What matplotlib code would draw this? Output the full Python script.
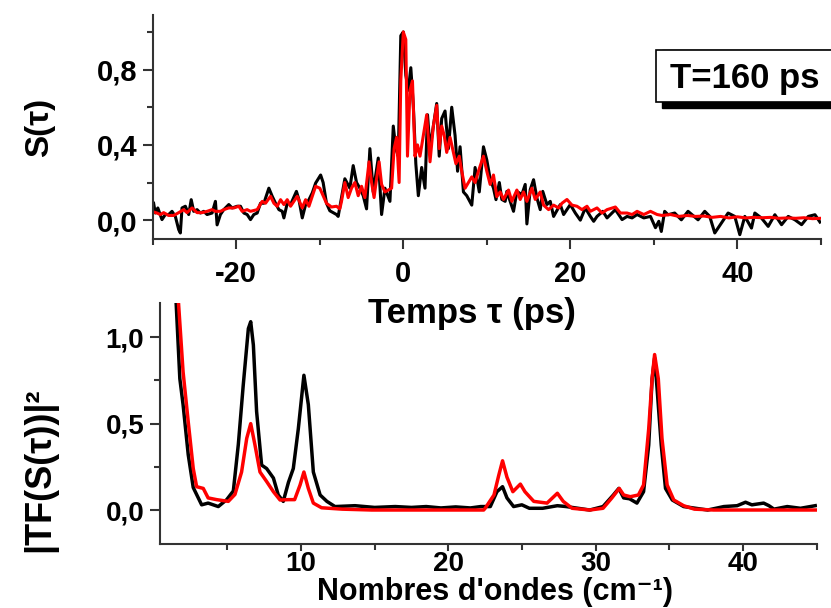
import numpy as np
import matplotlib
matplotlib.use("Agg")
import matplotlib.pyplot as plt
from matplotlib.patches import Rectangle
from matplotlib.ticker import MultipleLocator

plt.rcParams['font.family'] = ['Liberation Sans', 'DejaVu Sans']
plt.rcParams['font.weight'] = 'bold'

# ---- top panel : S(tau) ----
t_black = [-29.9, -29.7, -29.4, -28.9, -28.5, -28.1, -27.7, -27.3, -26.9, -26.7, -26.5, -26.1,
           -25.7, -25.4, -25.1, -24.7, -24.3, -23.9, -23.5, -22.9, -22.5, -22.3, -21.9, -21.5,
           -20.9, -20.5, -19.9, -19.5, -19.1, -18.7, -18.3, -17.9, -17.5, -17.1, -16.7, -16.1,
           -15.7, -15.3, -14.9, -14.5, -14.3, -13.9, -13.5, -12.8, -12.5, -12.1, -11.7, -11.3,
           -10.9, -10.5, -9.9, -9.6, -9.2, -8.8, -8.0, -7.8, -7.4, -7.0, -6.4, -6.0, -5.6, -5.2,
           -4.8, -4.4, -4.0, -3.6, -3.0, -2.6, -2.2, -1.6, -1.2, -0.9, -0.6, -0.3, 0.0, 0.3, 0.6,
           0.9, 1.2, 1.5, 1.8, 2.2, 2.6, 2.9, 3.2, 3.6, 4.0, 4.3, 4.6, 5.0, 5.4, 5.8, 6.2, 6.5,
           6.8, 7.2, 7.6, 8.2, 8.6, 9.1, 9.6, 10.0, 10.4, 10.8, 11.1, 11.5, 11.8, 12.2, 12.4,
           12.8, 13.2, 13.6, 14.2, 14.6, 14.8, 15.2, 15.6, 16.0, 16.4, 16.7, 17.2, 17.6, 18.0,
           18.8, 19.2, 20.0, 20.6, 21.2, 21.8, 22.4, 22.8, 23.2, 23.9, 24.4, 25.4, 26.2, 26.8,
           27.4, 28.0, 28.8, 29.6, 30.2, 30.6, 30.9, 31.3, 31.7, 32.5, 33.3, 34.1, 35.3, 36.1,
           36.7, 37.3, 38.1, 38.9, 39.7, 40.3, 40.9, 41.7, 42.1, 42.9, 43.7, 44.5, 45.3, 46.1,
           46.9, 47.7, 48.5, 49.3, 49.9]
s_black = [0.09, 0.038, 0.065, 0.003, 0.03, 0.03, 0.047, 0.02, -0.05, -0.068, 0.065, 0.074,
           0.03, 0.109, 0.047, 0.056, 0.038, 0.047, 0.03, 0.038, 0.10, -0.025, 0.03, 0.056,
           0.083, 0.065, 0.074, 0.074, 0.038, 0.03, 0.003, 0.03, 0.038, 0.09, 0.09, 0.17,
           0.127, 0.09, 0.056, 0.047, 0.012, 0.09, 0.083, 0.153, 0.109, 0.012, 0.083, 0.109,
           0.145, 0.197, 0.24, 0.20, 0.09, 0.05, 0.03, 0.02, 0.12, 0.22, 0.17, 0.29, 0.20, 0.17,
           0.13, 0.06, 0.38, 0.15, 0.33, 0.03, 0.17, 0.10, 0.50, 0.38, 0.34, 0.98, 1.0, 0.77, 0.69,
           0.81, 0.61, 0.30, 0.13, 0.28, 0.17, 0.56, 0.38, 0.50, 0.62, 0.34, 0.54, 0.58, 0.38, 0.60,
           0.45, 0.26, 0.39, 0.15, 0.13, 0.08, 0.28, 0.15, 0.39, 0.32, 0.22, 0.17, 0.109, 0.20,
           0.11, 0.10, 0.153, 0.10, 0.047, 0.153, 0.136, 0.19, -0.02, 0.162, 0.215, 0.118, 0.056,
           0.153, 0.083, 0.10, 0.02, 0.083, 0.03, 0.083, 0.038, 0.0, 0.065, 0.02, -0.006, 0.02,
           0.047, 0.012, 0.056, 0.003, 0.02, 0.012, 0.03, 0.012, 0.02, -0.04, -0.006, -0.06,
           0.047, 0.029, 0.038, 0.002, 0.047, 0.002, 0.047, 0.02, -0.068, -0.015, 0.038, 0.02,
           -0.077, 0.02, -0.042, 0.038, 0.011, -0.033, 0.029, -0.024, 0.02, 0.002, -0.024, 0.02,
           0.029, -0.01]

t_red = [-30.0, -29.5, -29.1, -28.7, -28.1, -27.5, -26.9, -26.3, -25.9, -25.3, -24.7, -24.1,
         -23.5, -22.9, -22.5, -21.9, -21.5, -20.9, -20.3, -19.7, -19.3, -18.7, -18.3, -17.5,
         -16.9, -16.5, -15.9, -15.5, -15.1, -14.7, -14.3, -13.9, -13.5, -13.1, -12.7, -12.1,
         -11.7, -11.3, -10.9, -10.5, -10.0, -9.6, -9.2, -8.6, -8.0, -7.6, -7.4, -7.0, -6.6,
         -6.2, -5.8, -5.4, -5.0, -4.6, -4.1, -3.8, -3.5, -3.2, -2.9, -2.6, -2.2, -1.8, -1.4,
         -1.1, -0.8, -0.5, -0.3, 0.0, 0.3, 0.5, 0.8, 1.1, 1.4, 1.7, 2.0, 2.4, 2.8, 3.2, 3.6,
         4.0, 4.3, 4.6, 4.9, 5.2, 5.6, 5.9, 6.3, 6.7, 7.0, 7.4, 7.8, 8.2, 8.6, 9.0, 9.3, 9.6,
         10.0, 10.4, 10.8, 11.2, 11.6, 12.0, 12.6, 13.0, 13.6, 14.0, 14.4, 14.8, 15.4, 15.8,
         16.4, 16.8, 17.4, 18.0, 18.6, 19.0, 19.6, 20.2, 20.8, 21.4, 22.0, 22.4, 23.2, 23.8,
         24.4, 25.4, 26.0, 26.8, 27.4, 28.0, 28.8, 29.6, 30.4, 31.0, 32.0, 33.0, 34.0, 35.0,
         36.0, 37.0, 38.0, 39.0, 40.0, 41.0, 42.0, 43.0, 44.0, 45.0, 46.0, 47.0, 48.0, 49.0,
         50.0]
s_red = [0.045, 0.038, 0.03, 0.04, 0.025, 0.025, 0.04, 0.056, 0.04, 0.065, 0.04, 0.04,
         0.047, 0.056, 0.047, 0.047, 0.056, 0.065, 0.065, 0.074, 0.047, 0.056, 0.047, 0.056,
         0.10, 0.09, 0.127, 0.09, 0.074, 0.109, 0.083, 0.109, 0.074, 0.10, 0.127, 0.065,
         0.109, 0.074, 0.127, 0.18, 0.17, 0.13, 0.09, 0.07, 0.074, 0.06, 0.10, 0.20, 0.12,
         0.17, 0.20, 0.13, 0.18, 0.12, 0.31, 0.20, 0.12, 0.22, 0.31, 0.19, 0.15, 0.16, 0.17,
         0.38, 0.44, 0.20, 0.74, 1.00, 0.96, 0.34, 0.69, 0.74, 0.34, 0.40, 0.34, 0.45, 0.56,
         0.31, 0.50, 0.61, 0.38, 0.50, 0.45, 0.36, 0.44, 0.38, 0.30, 0.34, 0.26, 0.17, 0.20,
         0.23, 0.20, 0.26, 0.30, 0.34, 0.26, 0.19, 0.24, 0.125, 0.15, 0.11, 0.16, 0.10, 0.16,
         0.11, 0.15, 0.10, 0.17, 0.11, 0.15, 0.08, 0.056, 0.08, 0.065, 0.09, 0.11, 0.08, 0.074,
         0.056, 0.074, 0.047, 0.065, 0.038, 0.056, 0.07, 0.038, 0.038, 0.03, 0.047, 0.03, 0.047,
         0.03, 0.025, 0.03, 0.02, 0.025, 0.02, 0.022, 0.015, 0.02, 0.012, 0.018, 0.012, 0.015,
         0.013, 0.015, 0.01, 0.012, 0.01, 0.013, 0.008, 0.01]

# ---- bottom panel : |TF(S(tau))|^2 ----
k_black = [1.2, 1.5, 1.78, 2.0, 2.35, 2.69, 3.26, 3.7, 4.39, 4.96, 5.41, 5.75, 6.08, 6.43,
           6.59, 6.77, 6.99, 7.33, 7.67, 8.13, 8.46, 8.8, 9.15, 9.48, 9.82, 10.2, 10.5, 10.84,
           11.3, 11.76, 12.31, 13.67, 15.0, 16.4, 17.5, 18.5, 19.5, 20.5, 21.5, 22.2, 22.85,
           23.3, 23.68, 23.98, 24.43, 24.99, 25.5, 26.4, 27.4, 28.0, 29.6, 30.5, 31.2, 31.57,
           31.9, 32.3, 32.8, 33.25, 33.6, 33.83, 34.0, 34.17, 34.45, 34.74, 35.2, 35.97, 37.6,
           38.7, 39.6, 40.17, 40.6, 41.4, 41.76, 42.1, 43.0, 43.9, 44.9]
p_black = [1.8, 1.25, 0.76, 0.61, 0.32, 0.13, 0.03, 0.04, 0.02, 0.06, 0.11, 0.38, 0.72, 1.05,
           1.09, 0.955, 0.57, 0.26, 0.24, 0.185, 0.087, 0.05, 0.16, 0.24, 0.47, 0.78, 0.61, 0.22,
           0.087, 0.05, 0.02, 0.025, 0.015, 0.02, 0.015, 0.02, 0.012, 0.018, 0.012, 0.02, 0.02,
           0.106, 0.135, 0.07, 0.02, 0.03, 0.01, 0.01, 0.025, 0.02, 0.0, 0.02, 0.087, 0.125,
           0.07, 0.065, 0.04, 0.106, 0.376, 0.76, 0.88, 0.70, 0.376, 0.125, 0.058, 0.02, 0.0,
           0.02, 0.025, 0.045, 0.03, 0.04, 0.025, 0.005, 0.02, 0.01, 0.025]

k_red = [1.4, 1.65, 2.0, 2.35, 2.69, 2.92, 3.37, 3.7, 4.28, 5.07, 5.52, 5.97, 6.32, 6.59,
         6.88, 7.22, 7.67, 8.13, 8.58, 9.15, 9.57, 9.94, 10.2, 10.5, 10.84, 11.4, 12.8, 14.8,
         22.4, 22.5, 23.1, 23.42, 23.68, 23.98, 24.38, 24.89, 25.2, 25.8, 26.7, 27.4, 27.8,
         28.4, 29.6, 30.5, 31.1, 31.6, 31.9, 32.35, 32.9, 33.25, 33.6, 33.83, 34.0, 34.25,
         34.5, 34.85, 35.3, 35.97, 36.7, 38.0, 45.0]
p_red = [1.8, 1.25, 0.80, 0.51, 0.24, 0.135, 0.125, 0.07, 0.06, 0.05, 0.09, 0.22, 0.415,
         0.50, 0.376, 0.22, 0.165, 0.106, 0.058, 0.06, 0.06, 0.145, 0.22, 0.125, 0.04, 0.013,
         0.005, 0.0, 0.0, 0.01, 0.087, 0.2, 0.285, 0.19, 0.106, 0.15, 0.106, 0.05, 0.04, 0.097,
         0.05, 0.01, 0.0, 0.01, 0.07, 0.125, 0.087, 0.077, 0.087, 0.145, 0.47, 0.76, 0.90,
         0.76, 0.415, 0.145, 0.058, 0.025, 0.005, 0.0, 0.0]

top_yticks = [0.0, 0.4, 0.8]
top_xticks = [-20, 0, 20, 40]
bot_yticks = [0.0, 0.5, 1.0]
bot_xticks = [10, 20, 30, 40]

W, H = 831, 608
fig = plt.figure(figsize=(W / 100, H / 100), dpi=100)

def px(x0, y0, x1, y1):
    return [x0 / W, 1 - y1 / H, (x1 - x0) / W, (y1 - y0) / H]

def style(ax, size, xlen, xpad):
    for s in ('top', 'right'):
        ax.spines[s].set_visible(False)
    for s in ('left', 'bottom'):
        ax.spines[s].set_linewidth(1.5)
        ax.spines[s].set_color('#333333')
    ax.tick_params(which='major', length=7, width=1.5, labelsize=size, pad=4, color='#333333')
    ax.tick_params(which='minor', length=4, width=1.5, color='#333333')
    ax.tick_params(axis='x', which='major', length=xlen, pad=xpad)
    for lab in ax.get_xticklabels() + ax.get_yticklabels():
        lab.set_fontweight('bold')

def comma(vals, fmt):
    return [fmt.format(v).replace('.', ',') for v in vals]

ax1 = fig.add_axes(px(152.8, 15, 820.8, 239))
ax1.plot(t_black, s_black, color='black', lw=2.2)
ax1.plot(t_red, s_red, color='red', lw=2.2)
ax1.set_xlim(-30, 50)
ax1.set_ylim(-0.1, 1.09)
ax1.set_xticks(top_xticks)
ax1.set_xticklabels([str(v) for v in top_xticks])
ax1.set_yticks(top_yticks)
ax1.set_yticklabels(comma(top_yticks, '{:.1f}'))
ax1.xaxis.set_minor_locator(MultipleLocator(10))
ax1.yaxis.set_minor_locator(MultipleLocator(0.2))
style(ax1, 21, 7, 8)

ax2 = fig.add_axes(px(159.5, 302.7, 816.7, 543.7))
ax2.plot(k_black, p_black, color='black', lw=2.5)
ax2.plot(k_red, p_red, color='red', lw=2.5)
ax2.set_xlim(0.4, 45)
ax2.set_ylim(-0.195, 1.2)
ax2.set_xticks(bot_xticks)
ax2.set_xticklabels([str(v) for v in bot_xticks])
ax2.set_yticks(bot_yticks)
ax2.set_yticklabels(comma(bot_yticks, '{:.1f}'))
ax2.xaxis.set_minor_locator(MultipleLocator(5))
ax2.yaxis.set_minor_locator(MultipleLocator(0.25))
style(ax2, 20, 5, 0)

# axis titles
fig.text(40 / W, 1 - 127 / H, 'S(τ)', rotation=90, ha='center', va='center',
         fontsize=24, fontweight='bold')
fig.text(472 / W, 1 - 313 / H, 'Temps τ (ps)', ha='center', va='center',
         fontsize=25, fontweight='bold')
fig.text(40 / W, 1 - 470 / H, '|TF(S(τ))|²', rotation=90, ha='center', va='center',
         fontsize=26, fontweight='bold')
fig.text(495 / W, 1 - 600 / H, "Nombres d'ondes (cm⁻¹)", ha='center', va='baseline',
         fontsize=22, fontweight='bold')

# label box with drop shadow
fig.patches.append(Rectangle((662 / W, 1 - 108 / H), 200 / W, 58 / H,
                             transform=fig.transFigure, facecolor='black',
                             edgecolor='black', zorder=5))
fig.patches.append(Rectangle((656 / W, 1 - 102 / H), 200 / W, 52 / H,
                             transform=fig.transFigure, facecolor='white',
                             edgecolor='black', lw=1.2, zorder=6))
fig.text(745 / W, 1 - 88 / H, 'T=160 ps', ha='center', va='baseline',
         fontsize=25, fontweight='bold', zorder=7)

fig.savefig('out.png', dpi=100)
